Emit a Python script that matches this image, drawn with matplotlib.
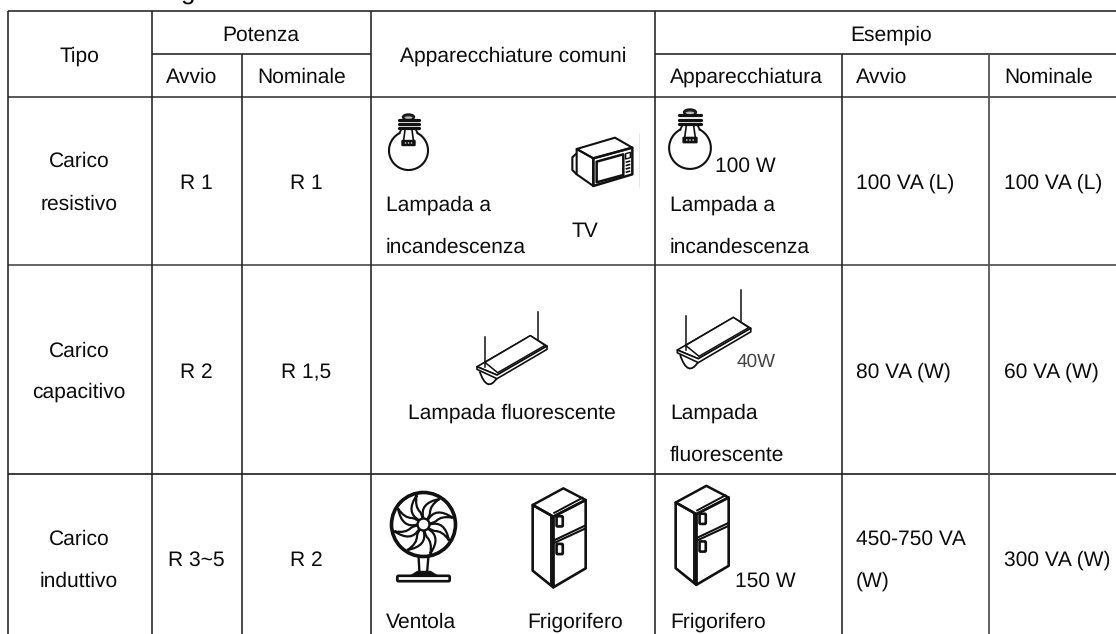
import numpy as np
import matplotlib
matplotlib.use("Agg")
import matplotlib.pyplot as plt
from matplotlib.patches import Circle, Ellipse, FancyBboxPatch, PathPatch, Polygon
from matplotlib.path import Path

plt.rcParams['font.family'] = ['Liberation Sans', 'DejaVu Sans']
plt.rcParams['text.hinting'] = 'no_hinting'
plt.rcParams['text.hinting_factor'] = 1

INK = "#0c0c0c"

# table texts
tipo_header = "Tipo"
potenza_header = "Potenza"
avvio_header = "Avvio"
nominale_header = "Nominale"
comuni_header = "Apparecchiature comuni"
esempio_header = "Esempio"
apparecchiatura_header = "Apparecchiatura"
tipo = [["Carico", "resistivo"], ["Carico", "capacitivo"], ["Carico", "induttivo"]]
potenza_avvio = ["R 1", "R 2", "R 3~5"]
potenza_nominale = ["R 1", "R 1,5", "R 2"]
esempio_avvio = [["100 VA (L)"], ["80 VA (W)"], ["450-750 VA", "(W)"]]
esempio_nominale = ["100 VA (L)", "60 VA (W)", "300 VA (W)"]
watt_labels = ["100 W", "40W", "150 W"]

# grid lines in pixels
col_x = [7.5, 151.5, 242, 371, 655, 841.5, 989]
row_y = [11, 54, 97, 265, 474]

fig = plt.figure(figsize=(11.16, 6.34), dpi=100, facecolor="white")
ax = fig.add_axes([0, 0, 1, 1])
ax.set_xlim(0, 1116)
ax.set_ylim(634, 0)
ax.axis("off")


def put(x, y, s, ha="left", size=15.2, color=INK):
    ax.text(x, y, s, ha=ha, va="baseline", fontsize=size, color=color)


def hline(y, x0=7.5, x1=1116, color="#222222", lw=1.15):
    ax.plot([x0, x1], [y, y], color=color, lw=lw, solid_capstyle="butt")


def vline(x, y0, y1=634, color="#222222", lw=1.15):
    ax.plot([x, x], [y0, y1], color=color, lw=lw, solid_capstyle="butt")


def poly(pts, lw=1.3, fill="none", closed=True, color="#111111", z=3):
    ax.add_patch(Polygon(pts, closed=closed, facecolor=fill, edgecolor=color, lw=lw, zorder=z,
                         joinstyle="round"))


def bulb(cx, top, s=1.0):
    # globe, open at the neck
    a = np.radians(np.linspace(-62, 242, 80))
    xs = cx + s * 19.5 * np.cos(a)
    ys = top + s * 36.5 + s * 19.5 * np.sin(a)
    ax.plot(xs, ys, color="#111111", lw=1.5, zorder=3)
    ax.plot([cx - 9 * s, cx - 7 * s], [top + 19 * s, top + 15 * s], color="#111111", lw=1.3, zorder=3)
    ax.plot([cx + 9 * s, cx + 7 * s], [top + 19 * s, top + 15 * s], color="#111111", lw=1.3, zorder=3)
    # screw cap
    ax.add_patch(Ellipse((cx, top + 3 * s), 12 * s, 6 * s, fc="#222222", ec="#111111", lw=1, zorder=3))
    ax.add_patch(Ellipse((cx, top + 3.6 * s), 8 * s, 2.4 * s, fc="#bbbbbb", ec="none", zorder=4))
    for dy in [6, 10, 14]:
        ax.plot([cx - 10 * s, cx + 10 * s], [top + dy * s, top + dy * s], color="#111111",
                lw=2.3, solid_capstyle="round", zorder=3)
    # filament
    ax.plot([cx - 3.5 * s, cx - 5 * s], [top + 16 * s, top + 27 * s], color="#111111", lw=1.2, zorder=3)
    ax.plot([cx + 3.5 * s, cx + 5 * s], [top + 16 * s, top + 27 * s], color="#111111", lw=1.2, zorder=3)
    ax.add_patch(FancyBboxPatch((cx - 6 * s, top + 27 * s), 12 * s, 4 * s,
                                boxstyle="round,pad=1.2", fc="#111111", ec="none", zorder=3))
    for dx in [-3, 0, 3]:
        ax.add_patch(Circle((cx + dx * s, top + 29 * s), 0.8 * s, fc="#cccccc", ec="none", zorder=4))


def microwave(x0, y0):
    def m(pts):
        return [(x0 + a / 3, y0 + b / 3) for a, b in pts]
    poly(m([(65, 72), (180, 38), (232, 68), (115, 100)]), lw=1.5)
    poly(m([(115, 100), (232, 68), (232, 148), (115, 183)]), lw=1.8)
    poly(m([(65, 72), (115, 100), (115, 183), (65, 148)]), lw=1.5)
    poly(m([(65, 85), (52, 97), (52, 135), (65, 148)]), closed=False, lw=1.5)
    poly(m([(125, 110), (205, 88), (205, 150), (125, 172)]), lw=1.8)
    poly(m([(212, 86), (226, 82), (226, 98), (212, 102)]), lw=1.0)
    for b in [112, 122, 132, 142]:
        poly(m([(212, b), (226, b - 4)]), closed=False, lw=1.2)
    vline(x0 + 253 / 3, y0 + 8, y0 + 62, color="#e4e4e4", lw=0.7)


def lamp(x0, y0, s=1.0, string_extra=0):
    # zero point is the left tip of the fitting
    def m(a, b):
        return (x0 + s * a / 3, y0 + s * b / 3)
    ax.add_patch(PathPatch(Path([m(8, 14), m(30, 80), m(60, 34)],
                                [Path.MOVETO, Path.CURVE3, Path.CURVE3]),
                           fc="white", ec="#111111", lw=1.3, zorder=3))
    poly([m(0, 0), m(160, -93), m(210, -62), m(60, 25)], fill="white", lw=1.2)
    poly([m(0, 0), m(0, 8), m(60, 36), m(210, -52), m(210, -62), m(60, 25)], fill="white", lw=1.2)
    poly([m(24, -13), m(160, -93), m(204, -64), m(62, 18)], fill="white", lw=1.1)
    ax.plot(*zip(m(25, -90 - string_extra), m(25, 0)), color="#111111", lw=1.1, zorder=4)
    ax.plot(*zip(m(183, -164 - string_extra), m(183, -80)), color="#111111", lw=1.1, zorder=4)


def fan(cx, cy):
    ax.add_patch(Circle((cx, cy), 32, fc="white", ec="#111111", lw=2.6, zorder=3))
    ax.add_patch(Circle((cx, cy), 6, fc="white", ec="#111111", lw=1.7, zorder=5))

    def pol(r, deg):
        return (cx + r * np.cos(np.radians(deg)), cy + r * np.sin(np.radians(deg)))
    for a in np.arange(0, 360, 45):
        verts = [pol(6, a), pol(22, a - 12), pol(30, a + 32),
                 pol(20, a + 18), pol(13, a + 30), pol(9, a + 38), pol(6, a + 34)]
        codes = [Path.MOVETO, Path.CURVE3, Path.CURVE3, Path.CURVE3, Path.CURVE3, Path.CURVE3, Path.CURVE3]
        ax.add_patch(PathPatch(Path(verts, codes), fc="none", ec="#111111", lw=1.6, zorder=4))
    # stand and foot
    ax.plot([cx - 5, cx - 4], [cy + 31, cy + 49], color="#111111", lw=1.7, zorder=2)
    ax.plot([cx + 5, cx + 3.5], [cy + 31, cy + 49], color="#111111", lw=1.7, zorder=2)
    poly([(cx - 14, cy + 52), (cx - 6, cy + 47), (cx + 7, cy + 47), (cx + 15, cy + 52)],
         fill="#111111", lw=1)
    ax.add_patch(FancyBboxPatch((cx - 25, cy + 52.5), 50, 3, boxstyle="round,pad=1.2",
                                fc="white", ec="#111111", lw=1.9, zorder=3))


def fridge(x0, y0):
    def m(pts):
        return [(x0 + a / 3, y0 + b / 3) for a, b in pts]
    poly(m([(38, 75), (130, 25), (197, 60), (100, 110)]), lw=1.8)
    poly(m([(38, 75), (100, 110), (100, 322), (38, 272)]), lw=1.9)
    poly(m([(100, 110), (197, 60), (197, 265), (100, 322)]), lw=1.9)
    poly(m([(92, 106), (92, 316)]), closed=False, lw=1.4)
    poly(m([(100, 100), (190, 52)]), closed=False, lw=1.4)
    poly(m([(100, 182), (197, 136)]), closed=False, lw=1.5)
    poly(m([(100, 190), (197, 145)]), closed=False, lw=1.5)
    for hy in [112, 195]:
        ax.add_patch(FancyBboxPatch((x0 + 113 / 3, y0 + hy / 3), 4, 8, boxstyle="round,pad=1.1",
                                    fc="white", ec="#111111", lw=1.9, zorder=4))


# title fragment cut by the top edge
put(188, 0, "g", ha="center", size=19)

# grid
hline(row_y[0])
hline(row_y[1], col_x[1], col_x[3])
hline(row_y[1], col_x[4], 1116)
hline(row_y[2], color="#333333")
hline(row_y[3], color="#444444")
hline(row_y[4], color="#111111")
vline(col_x[0], row_y[0])
vline(col_x[1], row_y[0])
vline(col_x[2], row_y[1])
vline(col_x[3], row_y[0])
vline(col_x[4], row_y[0])
vline(col_x[5], row_y[1], color="#222222")
vline(col_x[6], row_y[1], color="#555555", lw=1.3)

# header
put(79.5, 62, tipo_header, ha="center")
put(261, 41, potenza_header, ha="center")
put(192, 83, avvio_header, ha="center")
put(301.5, 83, nominale_header, ha="center")
put(513, 62, comuni_header, ha="center")
put(891, 41, esempio_header, ha="center")
put(670, 83, apparecchiatura_header)
put(856, 83, avvio_header)
put(1004, 83, nominale_header)

# body columns
line1 = [167, 357, 545]
line2 = [210, 398, 587]
middle = [189, 378, 566]
for i in range(3):
    put(79, line1[i], tipo[i][0], ha="center")
    put(79, line2[i], tipo[i][1], ha="center")
    put(196.5, middle[i], potenza_avvio[i], ha="center")
    put(306.5, middle[i], potenza_nominale[i], ha="center")
    if len(esempio_avvio[i]) == 1:
        put(856, middle[i], esempio_avvio[i][0])
    else:
        put(856, line1[i], esempio_avvio[i][0])
        put(856, line2[i], esempio_avvio[i][1])
    put(1004, middle[i], esempio_nominale[i])

# common appliances
put(386, 211, "Lampada a")
put(386, 253, "incandescenza")
put(572, 237, "TV")
put(408, 419, "Lampada fluorescente")
put(386, 628, "Ventola")
put(527, 628, "Frigorifero")

# example appliance
put(670, 211, "Lampada a")
put(670, 253, "incandescenza")
put(670, 419, "Lampada")
put(670, 461, "fluorescente")
put(670, 628, "Frigorifero")
put(715, 172, watt_labels[0])
put(737, 367, watt_labels[1], size=13.5, color="#444444")
put(735, 587, watt_labels[2])

# icons
bulb(408.5, 114)
bulb(690, 109, 1.07)
microwave(555, 125)
lamp(477, 366.7)
lamp(677.3, 350, s=1.05, string_extra=8)
fan(423.5, 524.5)
fridge(520, 480)
fridge(663, 477.5)

fig.savefig("out.png", dpi=100)
